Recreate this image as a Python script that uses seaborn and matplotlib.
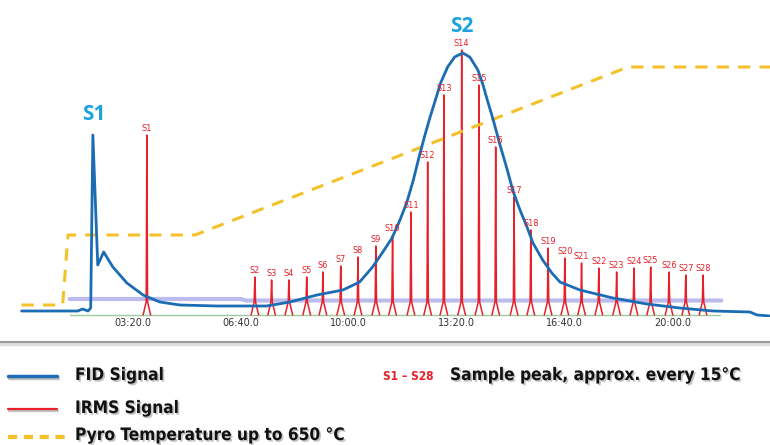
import numpy as np
import pandas as pd
import matplotlib
matplotlib.use("Agg")
import matplotlib.pyplot as plt
import matplotlib.patheffects as pe
from matplotlib.lines import Line2D
from matplotlib import font_manager as fm
import seaborn as sns

# ---------------- data ----------------
# FID signal: time (s) and signal (arbitrary units)
fid_t = [-6, 98, 107, 117, 122, 126, 135, 146, 163, 189, 219, 250, 287, 356,
         448, 491, 541, 589, 620, 644, 663, 680, 694, 707, 719, 731, 741, 750,
         770, 783, 796, 811, 824, 839, 848, 857, 867, 880, 893, 904, 917, 930,
         941, 959, 976, 991, 1028, 1089, 1152, 1213, 1274, 1343, 1356, 1380]
fid_v = [4, 4, 6, 4, 7, 180, 50, 63, 48, 32, 20, 13, 10, 9,
         9, 13, 20, 25, 33, 48, 63, 77, 94, 112, 134, 160, 180, 197,
         232, 248, 258, 262, 258, 245, 231, 214, 196, 170, 146, 124, 105, 88,
         72, 55, 42, 33, 25, 17, 11, 7, 4, 3, 0, -1]

# Pyrolysis temperature programme (plot units)
temp_t = [-6, 70, 80, 315, 1117, 1380]
temp_v = [10, 10, 80, 80, 248, 248]

# IRMS sample peaks S1..S28
peak_names = [f"S{i}" for i in range(1, 29)]
peak_t = [226, 426, 457, 489, 522, 552, 585, 617, 650, 681, 715, 746, 776,
          809, 841, 872, 906, 937, 969, 1000, 1031, 1063, 1096, 1128, 1159,
          1193, 1224, 1256]
peak_h = [180, 38, 35, 35, 38, 43, 49, 58, 69, 80, 103, 153, 220, 265, 230,
          168, 118, 85, 67, 57, 52, 47, 43, 47, 48, 43, 40, 40]

# IRMS baseline traces
base_t = [83, 1287]
base_v = [0, 0]
ratio_t = [83, 400, 410, 1290]
ratio_v = [16, 16, 14.5, 14.5]

# time axis
tick_pos = [200, 400, 600, 800, 1000, 1200]
tick_labels = ["03:20.0", "06:40.0", "10:00.0", "13:20.0", "16:40.0", "20:00.0"]

# ---------------- styling ----------------
BLUE = "#1C6CB4"
LBLUE = "#1DA4DF"
RED = "#E62129"
YELLOW = "#F3C12A"

sns.set_style("white")
plt.rcParams["font.family"] = ["DejaVu Sans"]


def find_condensed(bold):
    best = None
    for f in fm.fontManager.ttflist:
        nm = (f.name + " " + f.fname).lower()
        narrow = ("narrow" in nm or "condensed" in nm or
                  f.stretch in ("condensed", "semi-condensed", "extra-condensed"))
        if not narrow or "italic" in nm or "oblique" in nm or f.style != "normal":
            continue
        w = f.weight if isinstance(f.weight, int) else (700 if f.weight == "bold" else 400)
        if bold and w < 600:
            continue
        if not bold and w >= 600:
            continue
        if "extra" in nm or "ultra" in nm:
            continue
        if best is None:
            best = f.fname
    return best


bold_file = find_condensed(True)
reg_file = find_condensed(False)


def fprops(fname, fallback_weight):
    if fname:
        return fm.FontProperties(fname=fname)
    return fm.FontProperties(family="DejaVu Sans", weight=fallback_weight)


W, H = 770, 445
fig = plt.figure(figsize=(W / 100, H / 100), dpi=100)
renderer = fig.canvas.get_renderer()


def fit_size(text, fp, target_px, size0):
    t = fig.text(0, 0, text, fontproperties=fp, fontsize=size0)
    w = t.get_window_extent(renderer).width
    t.remove()
    return size0 * target_px / w


ax_top, ax_bot = 0, 317
ax = fig.add_axes([0, 1 - ax_bot / H, 1, (ax_bot - ax_top) / H])
ax.set_xlim(-46, 1380)
ax.set_ylim(-2, 315)

# baselines of IRMS
sns.lineplot(x=base_t, y=base_v, ax=ax, color="#9CCB9C", lw=1.0)
sns.lineplot(x=ratio_t, y=ratio_v, ax=ax, color="#9F9FE8", lw=3.0, alpha=0.7)

# IRMS peaks (narrow spikes with a small foot)
rows = []
for name, t, h in zip(peak_names, peak_t, peak_h):
    shape = [(-7, 0), (-1.3, 13), (0, h), (1.3, 13), (7, 0)]
    for k, (dx, v) in enumerate(shape):
        rows.append({"peak": name, "order": k, "t": t + dx, "v": v})
peaks_df = pd.DataFrame(rows)
sns.lineplot(data=peaks_df, x="t", y="v", units="peak", estimator=None,
             sort=False, ax=ax, color=RED, lw=1.1)

lab_fp = fprops(reg_file, "normal")
lab_size = min(8.0, fit_size("S28", lab_fp, 15.5, 8))
for name, t, h in zip(peak_names, peak_t, peak_h):
    ax.annotate(name, (t, h), xytext=(0, 1.5), textcoords="offset points",
                ha="center", va="bottom", fontsize=lab_size, color=RED,
                fontproperties=lab_fp)

# temperature
sns.lineplot(x=temp_t, y=temp_v, ax=ax, color=YELLOW, lw=2.2,
             linestyle=(0, (4, 3)), sort=False)

# FID
sns.lineplot(x=fid_t, y=fid_v, ax=ax, color=BLUE, lw=2.0, sort=False)

# S1 / S2 labels
ax.text(128, 200, "S1", color=LBLUE, fontsize=15, fontweight="bold",
        ha="center", va="center", family=["Open Sans", "DejaVu Sans"])
ax.text(809, 288, "S2", color=LBLUE, fontsize=15, fontweight="bold",
        ha="center", va="center", family=["Open Sans", "DejaVu Sans"])

ax.set_xticks(tick_pos)
ax.set_xticklabels(tick_labels, fontsize=7, color="#333333")
ax.tick_params(axis="x", length=0, pad=1)
ax.set_yticks([])
ax.set_xlabel("")
ax.set_ylabel("")
for s in ax.spines.values():
    s.set_visible(False)


def fy(py):
    return 1 - py / H


# separator line
fig.add_artist(Line2D([0, 1], [fy(343.5), fy(343.5)], color="#DDDDDD", lw=2.5))
fig.add_artist(Line2D([0, 1], [fy(341.5), fy(341.5)], color="#9A9A9A", lw=1.5))

# ---------------- custom legend ----------------
shadow = [pe.SimplePatchShadow(offset=(1.2, -1.2), shadow_rgbFace="#888888",
                               alpha=0.5), pe.Normal()]
lshadow = [pe.SimpleLineShadow(offset=(0.5, -1.5), shadow_color="#999999",
                               alpha=0.6), pe.Normal()]

fig.add_artist(Line2D([8 / W, 57 / W], [fy(376), fy(376)], color=BLUE, lw=2.5,
                      path_effects=lshadow))
fig.add_artist(Line2D([8 / W, 57 / W], [fy(409), fy(409)], color=RED, lw=1.6,
                      path_effects=lshadow))
fig.add_artist(Line2D([8 / W, 65 / W], [fy(437), fy(437)], color=YELLOW, lw=3,
                      linestyle=(0, (2.2, 1.6))))

leg_fp = fprops(bold_file, "bold")
leg_size = min(15.0, fit_size("Sample peak, approx. every 15\u00b0C", leg_fp, 292, 14))
leg_kw = dict(fontproperties=leg_fp, fontsize=leg_size, color="#111111",
              va="center", ha="left", path_effects=shadow)
fig.text(75 / W, fy(375), "FID Signal", **leg_kw)
fig.text(75 / W, fy(408), "IRMS Signal", **leg_kw)
fig.text(75 / W, fy(435), "Pyro Temperature up to 650 \u00b0C", **leg_kw)
s_size = min(9.0, fit_size("S1 \u2013 S28", leg_fp, 50, 8.5))
fig.text(383 / W, fy(377), "S1 \u2013 S28", fontproperties=leg_fp,
         fontsize=s_size, color=RED, va="center", ha="left")
fig.text(450 / W, fy(375), "Sample peak, approx. every 15\u00b0C", **leg_kw)

fig.savefig("out.png", dpi=100)
